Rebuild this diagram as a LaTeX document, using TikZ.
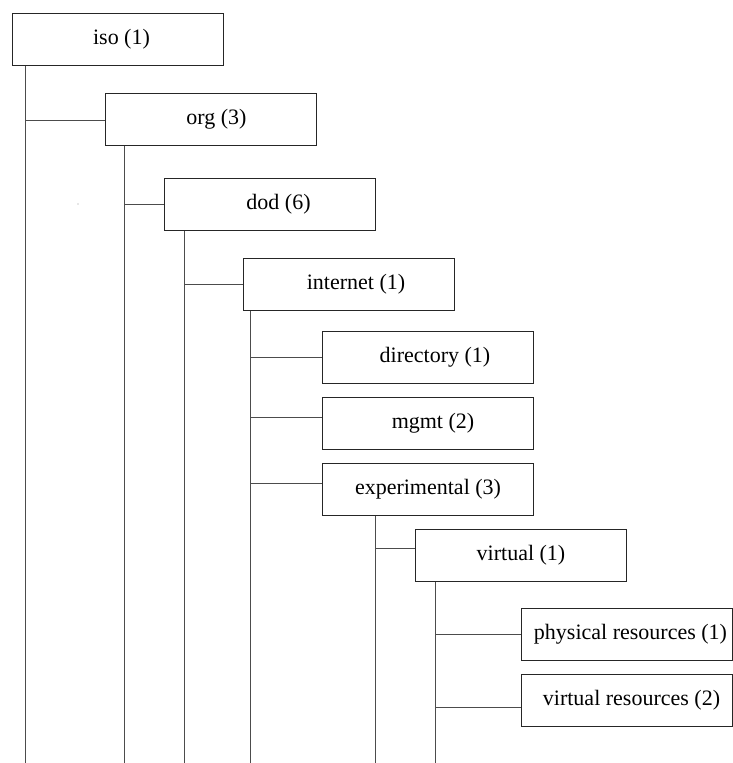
\documentclass[tikz,border=0pt]{standalone}
\usepackage{fontspec}
\setmainfont{Liberation Serif}
\usetikzlibrary{calc}
\begin{document}
\begin{tikzpicture}[x=1pt,y=-1pt,
  box/.style={draw=black!85, line width=1pt, rectangle, anchor=north west,
    minimum width=211pt, minimum height=52pt, inner sep=0pt,
    font=\fontsize{22}{26}\selectfont},
  link/.style={draw=black!70, line width=1pt}]
\useasboundingbox (0,0) rectangle (733,763);
\coordinate (bottom) at (0,763);

% tree nodes (text nudged right by a leading space where needed)
\node[box] (iso)  at (12,13)   {\hspace*{7pt}iso (1)};
\node[box] (org)  at (105,93)  {\hspace*{11pt}org (3)};
\node[box] (dod)  at (164,178) {\hspace*{17pt}dod (6)};
\node[box] (inet) at (243,258) {\hspace*{14pt}internet (1)};
\node[box] (dir)  at (322,331) {\hspace*{14pt}directory (1)};
\node[box] (mgmt) at (322,397) {\hspace*{10pt}mgmt (2)};
\node[box] (exp)  at (322,463) {experimental (3)};
\node[box] (virt) at (415,529) {virtual (1)};
\node[box] (phys) at (521,608) {\hspace*{7pt}physical resources (1)};
\node[box] (vres) at (521,674) {\hspace*{9pt}virtual resources (2)};

% trunk lines running down from each parent
\coordinate (isoT)  at ($(iso.south west)+(13,0)$);
\coordinate (orgT)  at ($(org.south west)+(19,0)$);
\coordinate (dodT)  at ($(dod.south west)+(20,0)$);
\coordinate (inetT) at ($(inet.south west)+(7,0)$);
\coordinate (expT)  at ($(exp.south west)+(53.5,0)$);
\coordinate (virtT) at ($(virt.south west)+(20,0)$);
\foreach \t in {isoT,orgT,dodT,inetT,expT,virtT}
  \draw[link] (\t) -- (\t |- bottom);

% branches to the children
\draw[link] ($(isoT |- org.west)+(0,1)$)  -- ($(org.west)+(0,1)$);
\draw[link] (orgT |- dod.west)  -- (dod.west);
\draw[link] (dodT |- inet.west) -- (inet.west);
\draw[link] (inetT |- dir.west) -- (dir.west);
\draw[link] ($(inetT |- mgmt.west)+(0,-6)$) -- ($(mgmt.west)+(0,-6)$);
\draw[link] ($(inetT |- exp.west)+(0,-6)$)  -- ($(exp.west)+(0,-6)$);
\draw[link] ($(expT |- virt.west)+(0,-7)$)  -- ($(virt.west)+(0,-7)$);
\draw[link] (virtT |- phys.west) -- (phys.west);
\draw[link] ($(virtT |- vres.west)+(0,7)$)  -- ($(vres.west)+(0,7)$);

% stray speck
\fill[black!40] (78,204) circle (0.7);
\end{tikzpicture}
\end{document}
